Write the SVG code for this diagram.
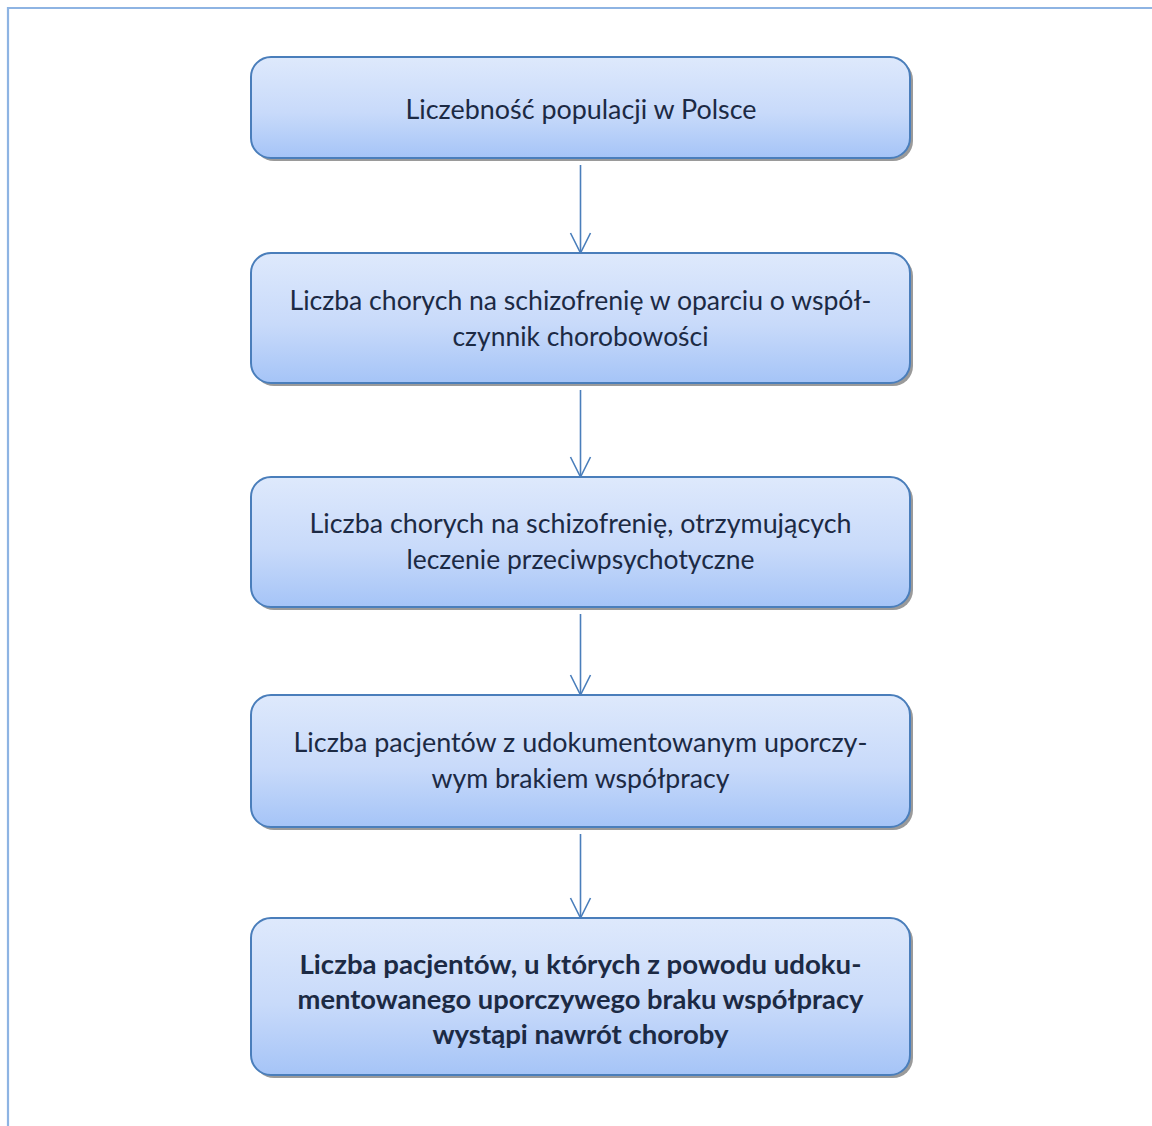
<svg xmlns="http://www.w3.org/2000/svg" width="1152" height="1126" viewBox="0 0 1152 1126">
  <defs>
    <linearGradient id="boxFill" x1="0" y1="0" x2="0" y2="1">
      <stop offset="0" stop-color="#dee9fc"/>
      <stop offset="0.55" stop-color="#c8dafa"/>
      <stop offset="1" stop-color="#a5c4f7"/>
    </linearGradient>
    <marker id="arrow" markerUnits="userSpaceOnUse" markerWidth="24" markerHeight="24" refX="20" refY="10" orient="auto" overflow="visible">
      <path d="M0,0 L20,10 L0,20" fill="none" stroke="#4a7ebb" stroke-width="1.6"/>
    </marker>
  </defs>
  <style>
    .box { fill: url(#boxFill); stroke: #4a7ebb; stroke-width: 2; }
    .shadow { fill: #9a9a9a; }
    .lbl { font-family: Lato, "Open Sans", "Liberation Sans", sans-serif; font-size: 27px; fill: #1c2a44; text-anchor: middle; }
    .bold { font-weight: bold; }
    .conn { stroke: #4a7ebb; stroke-width: 1.6; fill: none; }
    .frame { stroke: #8eb4e3; stroke-width: 2.2; fill: none; }
  </style>
  <rect width="1152" height="1126" fill="#ffffff"/>
  <path class="frame" d="M8,1126 L8,8 L1152,8"/>

  <g id="connectors">
    <line class="conn" x1="580.5" y1="165" x2="580.5" y2="253" marker-end="url(#arrow)"/>
    <line class="conn" x1="580.5" y1="390" x2="580.5" y2="477" marker-end="url(#arrow)"/>
    <line class="conn" x1="580.5" y1="614" x2="580.5" y2="695" marker-end="url(#arrow)"/>
    <line class="conn" x1="580.5" y1="834" x2="580.5" y2="918" marker-end="url(#arrow)"/>
  </g>

  <g id="node1">
    <rect class="shadow" x="254" y="60" width="659" height="101" rx="20"/>
    <rect class="box" x="251" y="57" width="659" height="101" rx="20"/>
    <text class="lbl" x="581" y="118.5" textLength="351" lengthAdjust="spacingAndGlyphs">Liczebność populacji w Polsce</text>
  </g>

  <g id="node2">
    <rect class="shadow" x="254" y="256" width="659" height="130" rx="20"/>
    <rect class="box" x="251" y="253" width="659" height="130" rx="20"/>
    <text class="lbl" x="580.5" y="310" textLength="582" lengthAdjust="spacingAndGlyphs">Liczba chorych na schizofrenię w oparciu o współ-</text>
    <text class="lbl" x="580.5" y="346" textLength="256" lengthAdjust="spacingAndGlyphs">czynnik chorobowości</text>
  </g>

  <g id="node3">
    <rect class="shadow" x="254" y="480" width="659" height="130" rx="20"/>
    <rect class="box" x="251" y="477" width="659" height="130" rx="20"/>
    <text class="lbl" x="580.5" y="533" textLength="542" lengthAdjust="spacingAndGlyphs">Liczba chorych na schizofrenię, otrzymujących</text>
    <text class="lbl" x="580.5" y="569" textLength="348" lengthAdjust="spacingAndGlyphs">leczenie przeciwpsychotyczne</text>
  </g>

  <g id="node4">
    <rect class="shadow" x="254" y="698" width="659" height="132" rx="20"/>
    <rect class="box" x="251" y="695" width="659" height="132" rx="20"/>
    <text class="lbl" x="580.5" y="752" textLength="574" lengthAdjust="spacingAndGlyphs">Liczba pacjentów z udokumentowanym uporczy-</text>
    <text class="lbl" x="580.5" y="788" textLength="298" lengthAdjust="spacingAndGlyphs">wym brakiem współpracy</text>
  </g>

  <g id="node5">
    <rect class="shadow" x="254" y="921" width="659" height="157" rx="20"/>
    <rect class="box" x="251" y="918" width="659" height="157" rx="20"/>
    <text class="lbl bold" x="580.5" y="974" textLength="562" lengthAdjust="spacingAndGlyphs">Liczba pacjentów, u których z powodu udoku-</text>
    <text class="lbl bold" x="580.5" y="1009" textLength="566" lengthAdjust="spacingAndGlyphs">mentowanego uporczywego braku współpracy</text>
    <text class="lbl bold" x="580.5" y="1044" textLength="296" lengthAdjust="spacingAndGlyphs">wystąpi nawrót choroby</text>
  </g>
</svg>
